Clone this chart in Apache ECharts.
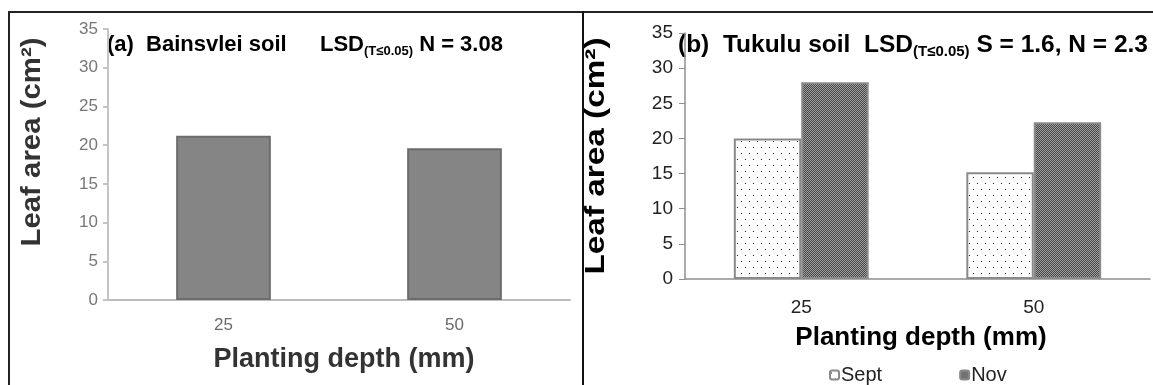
<!DOCTYPE html>
<html><head><meta charset="utf-8">
<script src="https://cdn.jsdelivr.net/npm/echarts@6/dist/echarts.min.js"></script>
<style>
html,body{margin:0;padding:0;background:#fff;width:1153px;height:385px;overflow:hidden}
#frame{position:absolute;left:8px;top:11px;width:1145px;height:374px;border-left:2px solid #222;border-top:2px solid #222;box-sizing:border-box}
#divider{position:absolute;left:582px;top:11px;width:2px;height:374px;background:#111}
#left{position:absolute;left:10px;top:13px;width:572px;height:372px;filter:blur(0.6px)}
#right{position:absolute;left:584px;top:13px;width:569px;height:372px}
</style></head><body>
<div id="frame"></div><div id="left"></div><div id="divider"></div><div id="right"></div>
<script>
// Planting depth categories (mm)
const depthCategories = ['25', '50'];
// Leaf area (cm²), Bainsvlei soil, averaged over planting dates
const bainsvleiLeafArea = [21.2, 19.6];
// Leaf area (cm²), Tukulu soil, by planting date
const tukuluSept = [20.0, 15.2];
const tukuluNov = [28.0, 22.3];
// Leaf-area axis range
const leafAxis = { min: 0, max: 35, interval: 5 };
const seriesNames = ['Sept', 'Nov'];

const FONT = 'Arial, "Liberation Sans", sans-serif';

// Fill patterns: white with sparse dots, and a fine dark checker
function dotPattern() {
  const c = document.createElement('canvas');
  c.width = 8; c.height = 12;
  const g = c.getContext('2d');
  g.fillStyle = '#fff'; g.fillRect(0, 0, 8, 12);
  g.fillStyle = '#222';
  g.fillRect(1, 2, 1, 1);
  g.fillRect(5, 8, 1, 1);
  return c;
}
function checkPattern() {
  const c = document.createElement('canvas');
  c.width = 2; c.height = 2;
  const g = c.getContext('2d');
  g.fillStyle = '#a0a0a0'; g.fillRect(0, 0, 2, 2);
  g.fillStyle = '#454545';
  g.fillRect(0, 0, 1, 1); g.fillRect(1, 1, 1, 1);
  return c;
}

function panelTitle(x, y, size, parts) {
  return {
    type: 'text', x: x, y: y,
    style: {
      text: parts,
      verticalAlign: 'middle',
      rich: {
        m: { fontFamily: FONT, fontWeight: 'bold', fontSize: size, lineHeight: size + 4, fill: '#000' },
        s: { fontFamily: FONT, fontWeight: 'bold', fontSize: Math.round(size * 0.6), lineHeight: Math.round(size * 0.64), fill: '#000', verticalAlign: 'bottom' }
      }
    }
  };
}

function axisTitle(x, y, text, size, stretch, color, vertical) {
  return {
    type: 'text', x: x, y: y,
    rotation: vertical ? Math.PI / 2 : 0, scaleX: stretch,
    style: { text: text, align: 'center', verticalAlign: 'middle',
             font: 'bold ' + size + 'px ' + FONT, fill: color }
  };
}

// ---- (a) Bainsvlei soil ----
const leftChart = echarts.init(document.getElementById('left'), null, { renderer: 'canvas' });
leftChart.setOption({
  animation: false,
  grid: { left: 98, right: 12, top: 16, bottom: 85 },
  xAxis: {
    type: 'category', data: depthCategories,
    axisLine: { lineStyle: { color: '#bdbdbd', width: 2 } },
    axisTick: { length: 5, lineStyle: { color: '#bdbdbd', width: 2 } },
    axisLabel: { margin: 17, fontFamily: FONT, fontSize: 17, color: '#6a6a6a' }
  },
  yAxis: {
    type: 'value', min: leafAxis.min, max: leafAxis.max, interval: leafAxis.interval,
    splitLine: { show: false },
    axisLine: { show: true, lineStyle: { color: '#c4c4c4', width: 2 } },
    axisTick: { show: true, length: 5, lineStyle: { color: '#c4c4c4', width: 2 } },
    axisLabel: { margin: 10, fontFamily: FONT, fontSize: 17, color: '#777' }
  },
  series: [{
    type: 'bar', data: bainsvleiLeafArea, barCategoryGap: '59%',
    itemStyle: { color: '#858585', borderColor: '#6c6c6c', borderWidth: 2 }
  }],
  graphic: [
    panelTitle(97, 32, 22, '{m|(a)  Bainsvlei soil}'),
    panelTitle(310, 32, 22, '{m|LSD}{s|(T≤0.05)}{m| N = 3.08}'),
    axisTitle(22, 129, 'Leaf area (cm²)', 28, 1.05, '#333', true),
    axisTitle(334, 347, 'Planting depth (mm)', 27, 1, '#333', false)
  ]
});

// ---- (b) Tukulu soil ----
const dots = dotPattern();
const check = checkPattern();
const rightChart = echarts.init(document.getElementById('right'), null, { renderer: 'canvas' });
rightChart.setOption({
  animation: false,
  grid: { left: 101, right: 3, top: 20, bottom: 106 },
  legend: {
    data: seriesNames, left: 240, top: 347, itemWidth: 9, itemHeight: 9, itemGap: 77,
    textStyle: { fontFamily: FONT, fontSize: 20, color: '#222', padding: [0, 0, 0, -3] }
  },
  xAxis: {
    type: 'category', data: depthCategories,
    axisLine: { lineStyle: { color: '#8f8f8f', width: 1.5 } },
    axisTick: { length: 6, lineStyle: { color: '#8f8f8f' } },
    axisLabel: { margin: 19, fontFamily: FONT, fontSize: 19, color: '#222' }
  },
  yAxis: {
    type: 'value', min: leafAxis.min, max: leafAxis.max, interval: leafAxis.interval,
    splitLine: { show: false },
    axisLine: { show: true, lineStyle: { color: '#8f8f8f', width: 1.5 } },
    axisTick: { show: true, length: 6, lineStyle: { color: '#8f8f8f' } },
    axisLabel: { margin: 12, fontFamily: FONT, fontSize: 19, color: '#222' }
  },
  series: [
    { type: 'bar', name: seriesNames[0], data: tukuluSept, barGap: '0%', barCategoryGap: '42%',
      itemStyle: { color: { image: dots, repeat: 'repeat' }, borderColor: '#8a8a8a', borderWidth: 2 } },
    { type: 'bar', name: seriesNames[1], data: tukuluNov, barGap: '0%', barCategoryGap: '42%',
      itemStyle: { color: { image: check, repeat: 'repeat' }, borderColor: '#8a8a8a', borderWidth: 2 } }
  ],
  graphic: [
    panelTitle(94, 32, 24.5, '{m|(b)  Tukulu soil  LSD}{s|(T≤0.05)}{m| S = 1.6, N = 2.3}'),
    axisTitle(12, 143, 'Leaf area (cm²)', 28, 1.19, '#000', true),
    axisTitle(337, 325, 'Planting depth (mm)', 26, 1, '#000', false)
  ]
});
</script>
</body></html>
